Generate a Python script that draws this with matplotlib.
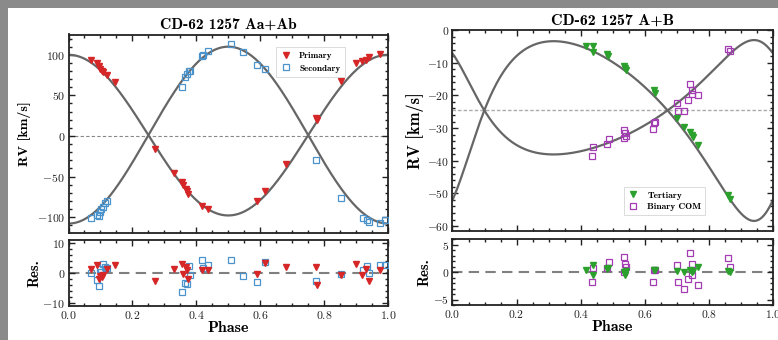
import numpy as np
import matplotlib
matplotlib.use("Agg")
import matplotlib.pyplot as plt
from matplotlib.ticker import MultipleLocator, FuncFormatter
from matplotlib.patches import Rectangle

plt.rcParams['mathtext.fontset'] = 'cm'
plt.rcParams['font.family'] = ['cmb10', 'DejaVu Serif']
plt.rcParams['axes.unicode_minus'] = True

# ---------------- Left panel: CD-62 1257 Aa+Ab ----------------
prim_phase = [0.070, 0.089, 0.096, 0.099, 0.104, 0.109, 0.122, 0.146, 0.272, 0.330,
              0.354, 0.359, 0.368, 0.372, 0.375, 0.419, 0.437, 0.589, 0.615, 0.680,
              0.774, 0.778, 0.854, 0.901, 0.920, 0.932, 0.941, 0.974]
prim_rv = [93, 90, 86, 83, 80.5, 79, 75.5, 66, -16, -46,
           -57, -61, -65, -68, -71, -86, -90, -80, -68, -34,
           21.5, 20, 68, 90, 92, 93, 97, 101]
prim_res = [1.2, 2.7, -2.0, -1.0, -1.3, -0.5, 1.2, 2.7, -2.7, 1.4,
            3.0, -0.2, 2.0, 1.1, -1.9, 0.9, 1.1, -0.4, 3.4, 2.0,
            2.0, -4.0, -0.8, 2.9, -0.8, 1.4, -2.6, 1.1]

sec_phase = [0.070, 0.089, 0.094, 0.099, 0.103, 0.108, 0.113, 0.122, 0.354, 0.366,
             0.370, 0.376, 0.380, 0.417, 0.420, 0.437, 0.510, 0.547, 0.589, 0.615,
             0.776, 0.854, 0.922, 0.935, 0.941, 0.974, 0.990]
sec_rv = [-101, -98, -99, -94, -90.5, -87, -83, -80, 60, 72.6,
          76, 80.5, 80, 98, 100, 104.6, 113.7, 103, 87, 83,
          -30, -76, -101, -103, -106, -107, -104]
sec_res = [0.0, -2.4, -4.3, 1.2, 0.5, 3.1, 2.0, 1.6, -6.3, -3.2,
           -3.8, 2.3, -0.5, 4.2, 1.8, 2.7, 4.2, -1.0, -3.0, 3.8,
           -2.6, -0.4, 1.1, 2.5, 0.0, 2.7, 2.8]

# orbital solution (inner binary)
inner_gamma = 1.0
inner_K1 = 99.0
inner_K2 = 109.0
inner_e = 0.0
inner_omega1 = 0.0

# ---------------- Right panel: CD-62 1257 A+B ----------------
ter_phase = [0.415, 0.439, 0.438, 0.481, 0.485, 0.535, 0.538, 0.540, 0.628, 0.633,
             0.699, 0.722, 0.740, 0.746, 0.749, 0.765, 0.859, 0.867]
ter_rv = [-4.8, -4.8, -6.6, -7.3, -7.9, -11.1, -11.7, -12.1, -18.4, -19.3,
          -26.9, -29.6, -31.3, -32.0, -32.7, -35.1, -50.4, -51.7]
ter_res = [0.4, 1.2, -0.6, 0.6, 0.7, 0.0, -0.6, 0.2, 0.4, 0.4,
           0.2, 0.0, 0.4, 0.0, 0.2, 0.9, 0.1, 0.0]

com_phase = [0.438, 0.436, 0.481, 0.488, 0.535, 0.538, 0.535, 0.540, 0.625, 0.628,
             0.633, 0.699, 0.703, 0.722, 0.735, 0.742, 0.746, 0.748, 0.765, 0.859, 0.867]
com_rv = [-35.9, -38.5, -34.9, -33.4, -30.6, -31.5, -33.1, -32.3, -30.3, -28.6,
          -28.0, -22.3, -24.9, -24.9, -21.4, -16.5, -18.4, -19.6, -19.9, -5.8, -6.5]
com_res = [0.7, -1.8, 0.7, 1.9, 2.8, 1.5, 0.0, 0.9, -1.8, 0.4,
           0.4, 1.3, -1.8, -3.1, -1.2, 3.4, 1.5, -0.5, -2.4, 2.5, 0.9]

outer_gamma = -24.6
outer_K3 = 27.5
outer_Kcom = 17.5
outer_e = 0.30
outer_omega3 = 220.0


def rv_model(phase, gamma, K, e, omega_deg):
    M = 2 * np.pi * np.asarray(phase)
    E = M.copy()
    for _ in range(60):
        E = E - (E - e * np.sin(E) - M) / (1 - e * np.cos(E))
    nu = 2 * np.arctan2(np.sqrt(1 + e) * np.sin(E / 2), np.sqrt(1 - e) * np.cos(E / 2))
    w = np.radians(omega_deg)
    return gamma + K * (np.cos(nu + w) + e * np.cos(w))


RED = '#d62728'
BLUE = '#4a93cd'
GREEN = '#2ca02c'
PURP = '#a33cb3'
LINEC = '#666666'

fig = plt.figure(figsize=(7.78, 3.40), dpi=100)
fig.patch.set_facecolor('#8a8a8a')
bg = Rectangle((8 / 778, 0), 1, 1 - 8 / 340, transform=fig.transFigure,
               facecolor='white', edgecolor='none', zorder=-10)
fig.patches.append(bg)

W, H = 778, 340
def ax_rect(x0, x1, y0, y1):
    return [x0 / W, 1 - y1 / H, (x1 - x0) / W, (y1 - y0) / H]

axL = fig.add_axes(ax_rect(68.5, 388, 34.5, 232.5))
axLr = fig.add_axes(ax_rect(68.5, 388, 240, 306))
axR = fig.add_axes(ax_rect(452.5, 773, 30, 231))
axRr = fig.add_axes(ax_rect(452.5, 773, 239, 305))


def style(ax, xmaj, xmin, ymaj, ymin, tsize):
    ax.set_facecolor('white')
    ax.xaxis.set_major_locator(MultipleLocator(xmaj))
    ax.xaxis.set_minor_locator(MultipleLocator(xmin))
    ax.yaxis.set_major_locator(MultipleLocator(ymaj))
    ax.yaxis.set_minor_locator(MultipleLocator(ymin))
    ax.tick_params(which='both', direction='in', top=True, right=True, width=1.0,
                   labelsize=tsize, pad=2.5, colors='#222222')
    ax.tick_params(which='major', length=4)
    ax.tick_params(which='minor', length=2)
    ax.xaxis.set_major_formatter(FuncFormatter(lambda v, p: r'$\mathbf{%.1f}$' % v))
    ax.yaxis.set_major_formatter(FuncFormatter(lambda v, p: r'$\mathbf{%d}$' % round(v)))
    for s in ax.spines.values():
        s.set_linewidth(1.3)
        s.set_color('#222222')
    ax.set_xlim(0, 1)


ph = np.linspace(0, 1, 600)
MS_T = 5.0
MS_S = 4.8

# Left main
axL.axhline(0, color='#888888', lw=0.8, ls=(0, (3, 2)), zorder=1)
axL.plot(ph, rv_model(ph, inner_gamma, inner_K1, inner_e, inner_omega1), color=LINEC, lw=1.6, zorder=2)
axL.plot(ph, rv_model(ph, inner_gamma, inner_K2, inner_e, inner_omega1 + 180), color=LINEC, lw=1.6, zorder=2)
axL.plot(prim_phase, prim_rv, 'v', color=RED, ms=MS_T, label='Primary', zorder=4, ls='none')
axL.plot(sec_phase, sec_rv, 's', mfc='none', mec=BLUE, ms=MS_S, mew=0.9, label='Secondary', zorder=3, ls='none')
style(axL, 0.2, 0.05, 50, 10, 8.5)
axL.set_ylim(-119, 125)
axL.tick_params(labelbottom=False)
axL.set_title('CD-62 1257 Aa+Ab', fontsize=11.2, pad=4)
axL.set_ylabel('RV [km/s]', fontsize=10, labelpad=4)
leg = axL.legend(loc='upper right', bbox_to_anchor=(0.865, 0.937), borderaxespad=0,
                 fontsize=6.6, frameon=True, fancybox=False, edgecolor='#cccccc',
                 handletextpad=0.8, borderpad=0.5, labelspacing=0.45, handlelength=1.2)
leg.get_frame().set_linewidth(0.6)

# Left residuals
axLr.axhline(0, color='#808080', lw=1.5, ls=(0, (5, 3)), zorder=1)
axLr.plot(sec_phase, sec_res, 's', mfc='none', mec=BLUE, ms=MS_S, mew=0.9, zorder=3, ls='none')
axLr.plot(prim_phase, prim_res, 'v', color=RED, ms=MS_T, zorder=4, ls='none')
style(axLr, 0.2, 0.05, 10, 2, 8.5)
axLr.set_ylim(-11, 11)
axLr.set_xlabel('Phase', fontsize=11.5, labelpad=0)
axLr.set_ylabel('Res.', fontsize=10.5, labelpad=1)

# Right main
axR.axhline(outer_gamma, color='#aaaaaa', lw=1.0, ls=(0, (2.5, 1.5)), zorder=1)
axR.plot(ph, rv_model(ph, outer_gamma, outer_K3, outer_e, outer_omega3), color=LINEC, lw=1.6, zorder=2)
axR.plot(ph, rv_model(ph, outer_gamma, outer_Kcom, outer_e, outer_omega3 - 180), color=LINEC, lw=1.6, zorder=2)
axR.plot(ter_phase, ter_rv, 'v', color=GREEN, ms=MS_T, label='Tertiary', zorder=4, ls='none')
axR.plot(com_phase, com_rv, 's', mfc='none', mec=PURP, ms=MS_S, mew=0.9, label='Binary COM', zorder=3, ls='none')
style(axR, 0.2, 0.05, 10, 2, 8.3)
axR.set_ylim(-61.5, 0)
axR.tick_params(labelbottom=False)
axR.set_title('CD-62 1257 A+B', fontsize=11.5, pad=4)
axR.set_ylabel('RV [km/s]', fontsize=11.8, labelpad=2)
leg2 = axR.legend(loc='lower right', bbox_to_anchor=(0.788, 0.08), borderaxespad=0,
                  fontsize=6.8, frameon=True, fancybox=False, edgecolor='#cccccc',
                  handletextpad=0.9, borderpad=0.4, labelspacing=0.3, handlelength=1.2)
leg2.get_frame().set_linewidth(0.6)

# Right residuals
axRr.axhline(0, color='#808080', lw=1.5, ls=(0, (5, 3)), zorder=1)
axRr.plot(com_phase, com_res, 's', mfc='none', mec=PURP, ms=MS_S, mew=0.9, zorder=3, ls='none')
axRr.plot(ter_phase, ter_res, 'v', color=GREEN, ms=MS_T, zorder=4, ls='none')
style(axRr, 0.2, 0.05, 5, 1, 8.3)
axRr.set_ylim(-6, 6)
axRr.set_xlabel('Phase', fontsize=11.5, labelpad=0)
axRr.set_ylabel('Res.', fontsize=10.5, labelpad=1)

fig.savefig('out.png', dpi=100, facecolor=fig.get_facecolor())
